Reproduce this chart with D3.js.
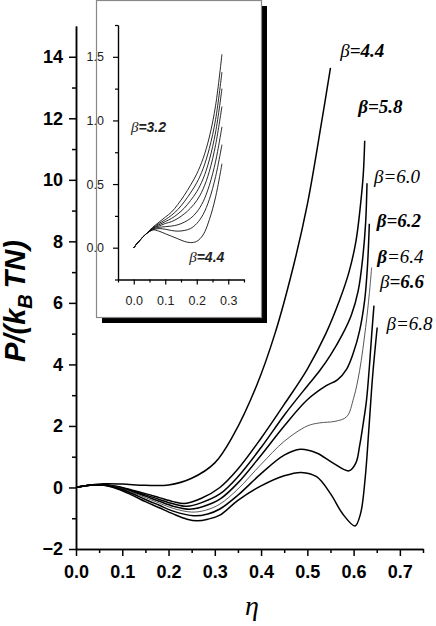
<!DOCTYPE html>
<html>
<head>
<meta charset="utf-8">
<script src="https://cdn.jsdelivr.net/npm/d3@7/dist/d3.min.js"></script>
<style>
  body { margin: 0; background: #fff; }
</style>
</head>
<body>
<div id="chart"></div>
<script>
// ---- data: [eta, P/(kB T N)] ----
var beta44 = [[0,0],[0.03,0.08],[0.06,0.12],[0.1,0.11],[0.15,0.07],[0.2,0.08],[0.25,0.3],[0.3,0.8],
  [0.34,1.7],[0.39,3.3],[0.43,5.0],[0.47,7.2],[0.5,9.2],[0.53,11.8],[0.55,13.64]];
var beta58 = [[0,0],[0.03,0.07],[0.06,0.09],[0.09,0.03],[0.12,-0.08],[0.15,-0.2],[0.18,-0.33],[0.21,-0.46],
  [0.235,-0.52],[0.27,-0.36],[0.311,0],[0.35,0.6],[0.4,1.6],[0.45,2.7],[0.5,3.85],[0.54,5.0],[0.57,6.1],
  [0.59,7.0],[0.605,8.0],[0.615,9.2],[0.621,10.2],[0.624,11.27]];
var beta60 = [[0,0],[0.03,0.07],[0.06,0.09],[0.09,0.02],[0.12,-0.1],[0.15,-0.24],[0.18,-0.39],[0.21,-0.53],
  [0.24,-0.61],[0.27,-0.5],[0.311,-0.21],[0.35,0.35],[0.4,1.3],[0.45,2.35],[0.5,3.3],[0.527,3.8],[0.55,4.3],
  [0.575,4.95],[0.595,5.6],[0.61,6.4],[0.62,7.5],[0.626,8.6],[0.629,9.89]];
var beta62 = [[0,0],[0.03,0.07],[0.06,0.08],[0.09,0.01],[0.12,-0.12],[0.15,-0.28],[0.18,-0.45],[0.21,-0.61],
  [0.245,-0.71],[0.275,-0.62],[0.311,-0.38],[0.35,0.15],[0.4,1.05],[0.45,2.0],[0.5,2.85],[0.54,3.3],[0.565,3.5],
  [0.585,3.85],[0.6,4.4],[0.613,5.1],[0.624,6.1],[0.63,7.2],[0.634,8.57]];
var beta64 = [[0,0],[0.03,0.07],[0.06,0.08],[0.09,0],[0.12,-0.15],[0.15,-0.33],[0.18,-0.51],[0.21,-0.68],
  [0.25,-0.8],[0.28,-0.74],[0.311,-0.54],[0.35,-0.05],[0.4,0.75],[0.45,1.5],[0.5,2.0],[0.527,2.1],[0.56,2.15],
  [0.585,2.3],[0.6,2.9],[0.613,3.8],[0.626,5.2],[0.634,6.3],[0.639,7.15]];
var beta66 = [[0,0],[0.03,0.07],[0.06,0.08],[0.09,-0.02],[0.12,-0.19],[0.15,-0.39],[0.18,-0.58],[0.21,-0.77],
  [0.255,-0.92],[0.285,-0.86],[0.311,-0.7],[0.35,-0.25],[0.4,0.45],[0.45,1.05],[0.485,1.24],[0.52,1.12],
  [0.555,0.8],[0.59,0.54],[0.605,0.8],[0.613,1.35],[0.621,2.1],[0.628,2.85],[0.634,3.9],[0.639,4.95],[0.644,5.91]];
var beta68 = [[0,0],[0.03,0.07],[0.06,0.07],[0.09,-0.05],[0.12,-0.24],[0.15,-0.46],[0.18,-0.66],[0.21,-0.86],
  [0.24,-1.03],[0.262,-1.08],[0.285,-1.03],[0.311,-0.9],[0.35,-0.42],[0.4,0.05],[0.45,0.38],[0.487,0.49],
  [0.52,0.35],[0.55,-0.2],[0.577,-0.87],[0.603,-1.25],[0.615,-0.85],[0.625,0.3],[0.633,1.9],[0.641,3.6],[0.651,5.2]];

var mainBetas = ["4.4", "5.8", "6.0", "6.2", "6.4", "6.6", "6.8"];
var mainCurves = [beta44, beta58, beta60, beta62, beta64, beta66, beta68];

// inset: eta grid shared by all inset curves
var insetEta = [0, 0.02, 0.04, 0.06, 0.08, 0.10, 0.12, 0.14, 0.16, 0.18, 0.20, 0.22, 0.24, 0.26, 0.28];
var inset32 = [0, 0.06, 0.11, 0.16, 0.20, 0.24, 0.28, 0.34, 0.41, 0.49, 0.58, 0.70, 0.87, 1.12, 1.52];
var inset34 = [0, 0.06, 0.11, 0.155, 0.19, 0.22, 0.255, 0.30, 0.36, 0.43, 0.51, 0.62, 0.78, 1.01, 1.38];
var inset36 = [0, 0.06, 0.11, 0.15, 0.18, 0.205, 0.23, 0.265, 0.31, 0.37, 0.44, 0.54, 0.69, 0.91, 1.25];
var inset38 = [0, 0.06, 0.11, 0.15, 0.17, 0.19, 0.205, 0.23, 0.265, 0.31, 0.37, 0.46, 0.60, 0.81, 1.11];
var inset40 = [0, 0.06, 0.11, 0.145, 0.16, 0.165, 0.17, 0.18, 0.20, 0.23, 0.28, 0.36, 0.49, 0.68, 0.95];
var inset42 = [0, 0.06, 0.11, 0.14, 0.15, 0.145, 0.135, 0.13, 0.135, 0.15, 0.19, 0.26, 0.38, 0.56, 0.81];
var inset44 = [0, 0.06, 0.11, 0.14, 0.13, 0.11, 0.09, 0.07, 0.05, 0.04, 0.05, 0.10, 0.22, 0.40, 0.66];
var insetCurves = [inset32, inset34, inset36, inset38, inset40, inset42, inset44];

var yMajor = [-2, 0, 2, 4, 6, 8, 10, 12, 14];
var yMinor = [-1, 1, 3, 5, 7, 9, 11, 13];
var xMajor = [0, 0.1, 0.2, 0.3, 0.4, 0.5, 0.6, 0.7];
var xMinor = [0.05, 0.15, 0.25, 0.35, 0.45, 0.55, 0.65, 0.75];
var insetYMajor = [0, 0.5, 1.0, 1.5];
var insetYMinor = [-0.25, 0.25, 0.75, 1.25, 1.75];
var insetXMajor = [0, 0.1, 0.2, 0.3];
var insetXMinor = [-0.05, 0.05, 0.15, 0.25, 0.35];

// ---- drawing ----
var W = 436, H = 626;
var sans = "'Liberation Sans', Arial, sans-serif";
var serif = "'Liberation Serif', 'Times New Roman', serif";

var svg = d3.select("#chart").append("svg")
  .attr("width", W).attr("height", H);

var x = d3.scaleLinear().domain([0, 0.75]).range([76, 423]);
var y = d3.scaleLinear().domain([-2, 15]).range([549, 26]);

function styleAxis(g, width) {
  g.select(".domain").attr("stroke", "#000").attr("stroke-width", width);
  g.selectAll(".tick line").attr("stroke", "#000").attr("stroke-width", width);
}

// main axes (minor first, then major with labels)
var gx = svg.append("g").attr("transform", "translate(0," + y(-2) + ")");
gx.append("g").call(d3.axisBottom(x).tickValues(xMinor).tickSize(4).tickSizeOuter(0).tickFormat(""))
  .call(styleAxis, 1.5);
gx.append("g").call(d3.axisBottom(x).tickValues(xMajor).tickSize(7).tickSizeOuter(0).tickPadding(9)
    .tickFormat(d3.format(".1f")))
  .call(styleAxis, 1.5)
  .selectAll("text").attr("font-family", sans).attr("font-weight", "bold").attr("font-size", 18).attr("fill", "#000");

var gy = svg.append("g").attr("transform", "translate(" + x(0) + ",0)");
gy.append("g").call(d3.axisLeft(y).tickValues(yMinor).tickSize(4).tickSizeOuter(0).tickFormat(""))
  .call(styleAxis, 1.5);
gy.append("g").call(d3.axisLeft(y).tickValues(yMajor).tickSize(7).tickSizeOuter(0).tickPadding(6)
    .tickFormat(d3.format("d")))
  .call(styleAxis, 1.5)
  .selectAll("text").attr("font-family", sans).attr("font-weight", "bold").attr("font-size", 18).attr("fill", "#000");

// axis titles
svg.append("text")
  .attr("transform", "translate(25,301) rotate(-90)")
  .attr("text-anchor", "middle")
  .attr("font-family", sans).attr("font-weight", "bold").attr("font-style", "italic")
  .attr("font-size", 29)
  .call(function(t) {
    t.append("tspan").text("P/(k");
    t.append("tspan").attr("font-size", 20).attr("dy", 7).text("B");
    t.append("tspan").attr("dy", -7).text("\u2009TN)");
  });

svg.append("text")
  .attr("x", 252).attr("y", 615)
  .attr("text-anchor", "middle")
  .attr("font-family", serif).attr("font-style", "italic").attr("font-size", 28)
  .text("\u03b7");

// main curves
var line = d3.line()
  .curve(d3.curveCatmullRom.alpha(0.5))
  .x(function(d) { return x(d[0]); })
  .y(function(d) { return y(d[1]); });

svg.append("g").selectAll("path")
  .data(mainCurves)
  .enter().append("path")
  .attr("d", line)
  .attr("fill", "none")
  .attr("stroke", function(d, i) { return mainBetas[i] === "6.4" ? "#444" : "#000"; })
  .attr("stroke-width", function(d, i) { return mainBetas[i] === "6.4" ? 0.9 : 1.5; });

// curve labels: anchor in data units, then font weights for "β" and "=value"
var labelAnchor = {
  "4.4": [0.571, 14.0], "5.8": [0.610, 12.17], "6.0": [0.644, 9.89], "6.2": [0.650, 8.48],
  "6.4": [0.651, 7.29], "6.6": [0.657, 6.48], "6.8": [0.671, 5.12]
};
var labelWeight = {
  "4.4": ["normal", "bold"], "5.8": ["bold", "bold"], "6.0": ["normal", "normal"], "6.2": ["bold", "bold"],
  "6.4": ["bold", "normal"], "6.6": ["normal", "bold"], "6.8": ["normal", "normal"]
};
mainBetas.forEach(function(b) {
  var t = svg.append("text")
    .attr("x", x(labelAnchor[b][0])).attr("y", y(labelAnchor[b][1]))
    .attr("font-family", serif).attr("font-style", "italic").attr("font-size", 19);
  t.append("tspan").attr("font-weight", labelWeight[b][0]).text("\u03b2");
  t.append("tspan").attr("font-weight", labelWeight[b][1]).text("=" + b);
});

// ---- inset ----
svg.append("rect").attr("x", 102).attr("y", 6).attr("width", 165).attr("height", 317).attr("fill", "#000");
svg.append("rect").attr("x", 96.5).attr("y", 0.5).attr("width", 165).attr("height", 317)
  .attr("fill", "#fff").attr("stroke", "#888").attr("stroke-width", 1.2);

var ix = d3.scaleLinear().domain([-0.05, 0.35]).range([118, 244]);
var iy = d3.scaleLinear().domain([-0.25, 1.75]).range([279.5, 25]);

var igx = svg.append("g").attr("transform", "translate(0," + iy(-0.25) + ")");
igx.append("g").call(d3.axisBottom(ix).tickValues(insetXMinor).tickSize(3).tickSizeOuter(0).tickFormat(""))
  .call(styleAxis, 1.2);
igx.append("g").call(d3.axisBottom(ix).tickValues(insetXMajor).tickSize(5).tickSizeOuter(0).tickPadding(12)
    .tickFormat(d3.format(".1f")))
  .call(styleAxis, 1.2)
  .selectAll("text").attr("font-family", sans).attr("font-size", 12.5).attr("fill", "#222");

var igy = svg.append("g").attr("transform", "translate(" + ix(-0.05) + ",0)");
igy.append("g").call(d3.axisLeft(iy).tickValues(insetYMinor).tickSize(3).tickSizeOuter(0).tickFormat(""))
  .call(styleAxis, 1.2);
igy.append("g").call(d3.axisLeft(iy).tickValues(insetYMajor).tickSize(5).tickSizeOuter(0).tickPadding(9)
    .tickFormat(d3.format(".1f")))
  .call(styleAxis, 1.2)
  .selectAll("text").attr("font-family", sans).attr("font-size", 12.5).attr("fill", "#222");

var insetLine = d3.line()
  .curve(d3.curveCatmullRom.alpha(0.5))
  .x(function(d, i) { return ix(insetEta[i]); })
  .y(function(d) { return iy(d); });

svg.append("g").selectAll("path")
  .data(insetCurves)
  .enter().append("path")
  .attr("d", insetLine)
  .attr("fill", "none")
  .attr("stroke", "#111")
  .attr("stroke-width", 0.9);

var insetLabels = [["3.2", -0.009, 0.91], ["4.4", 0.176, -0.11]];
insetLabels.forEach(function(l) {
  var t = svg.append("text")
    .attr("x", ix(l[1])).attr("y", iy(l[2]))
    .attr("font-family", sans).attr("font-style", "italic").attr("font-weight", "bold")
    .attr("font-size", 14).attr("fill", "#222");
  t.append("tspan").attr("font-family", serif).attr("font-weight", "normal").attr("font-size", 15).text("\u03b2");
  t.append("tspan").text("=" + l[0]);
});
</script>
</body>
</html>
